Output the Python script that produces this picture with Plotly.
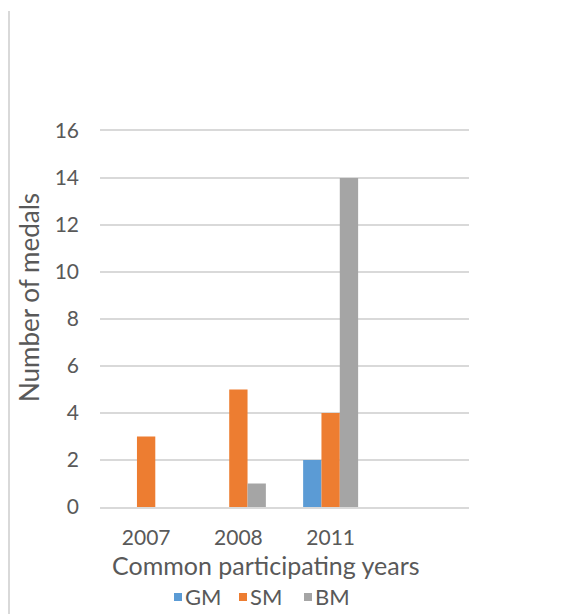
import plotly.graph_objects as go

years = ["2007", "2008", "2011"]
series_names = ["GM", "SM", "BM"]
gm = [0, 0, 2]
sm = [3, 5, 4]
bm = [0, 1, 14]
colors = ["#5B9BD5", "#ED7D31", "#A5A5A5"]
y_ticks = [0, 2, 4, 6, 8, 10, 12, 14, 16]

W, H = 571, 614
L, R, T, B = 100, 102, 131, 107
PW, PH = W - L - R, H - T - B

def px(x):
    return (x - L) / PW

def py(y):
    return (H - B - y) / PH

FONT = "Lato"
TXT = "#595959"
GRID = "#D9D9D9"

fig = go.Figure()
xpos = list(range(len(years)))
for name, vals, col in zip(series_names, [gm, sm, bm], colors):
    fig.add_trace(go.Bar(x=xpos, y=vals, name=name, marker=dict(color=col, line=dict(width=0)),
                         showlegend=False))

fig.update_layout(
    width=W, height=H,
    margin=dict(l=L, r=R, t=T, b=B),
    paper_bgcolor="white", plot_bgcolor="white",
    barmode="group", bargap=0.404, bargroupgap=0,
    font=dict(family=FONT, color=TXT),
    xaxis=dict(range=[-0.5, 3.5], tickvals=xpos, ticktext=years, showgrid=False,
               zeroline=False, showline=True, mirror=True, linecolor=GRID, linewidth=1.5,
               ticks="", tickfont=dict(size=21, color=TXT), ticklabelstandoff=11),
    yaxis=dict(range=[0, 16], tickvals=y_ticks, showgrid=True, gridcolor=GRID, gridwidth=1.5,
               zeroline=False, showline=False, ticks="", tickfont=dict(size=21, color=TXT),
               ticklabelstandoff=20),
)

# axis titles
fig.add_annotation(text="Common participating years", x=px(266), y=py(565), xref="paper", yref="paper",
                   showarrow=False, font=dict(size=25, color=TXT, family=FONT), xanchor="center", yanchor="middle")
fig.add_annotation(text="Number of medals", x=px(29), y=py(298), xref="paper", yref="paper", textangle=-90,
                   showarrow=False, font=dict(size=26, color=TXT, family=FONT), xanchor="center", yanchor="middle")

# legend (manual)
leg_sq = [174, 239, 304]
for name, col, sx in zip(series_names, colors, leg_sq):
    fig.add_shape(type="rect", xref="paper", yref="paper", x0=px(sx), x1=px(sx + 8), y0=py(601), y1=py(593),
                  fillcolor=col, line=dict(width=0))
    fig.add_annotation(text=name, x=px(sx + 9), y=py(596), xref="paper", yref="paper", showarrow=False,
                       xanchor="left", yanchor="middle", font=dict(size=22, color=TXT, family=FONT))

# left border line
fig.add_shape(type="line", xref="paper", yref="paper", x0=px(9), x1=px(9), y0=py(11), y1=py(614),
              line=dict(color=GRID, width=2))

fig.write_html("out.html")
